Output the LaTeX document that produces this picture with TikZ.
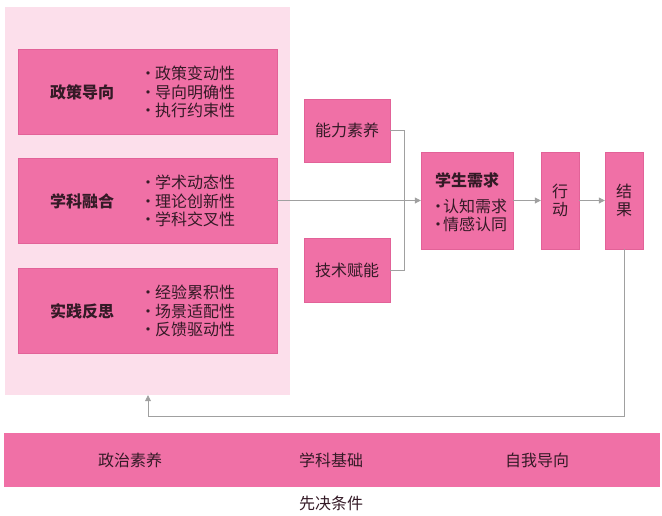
\documentclass[tikz,border=0pt]{standalone}
\usepackage{fontspec}
\setmainfont{Noto Sans CJK SC}
\usepackage{tikz}
\usetikzlibrary{arrows.meta}

\definecolor{rose}{RGB}{240,112,166}
\definecolor{roseedge}{RGB}{226,98,152}
\definecolor{blush}{RGB}{252,223,235}
\definecolor{ink}{RGB}{52,26,38}
\definecolor{wire}{RGB}{160,160,160}
\newcommand{\itm}[1][15pt]{\makebox[#1][l]{·}}

\begin{document}
\begin{tikzpicture}[x=1pt,y=-1pt,
        every node/.style={text=ink,font=\fontsize{16}{18.5}\selectfont,inner sep=0pt},
        blk/.style={fill=rose,draw=roseedge,line width=0.4pt},
        lst/.style={anchor=west,align=left},
        ->,>={Triangle[length=6pt,width=6pt]},wire/.style={draw=wire,line width=0.8pt}]
        \useasboundingbox (0,0) rectangle (662,515);
        \node (bg) [fill=blush,minimum width=285pt,minimum height=388pt] at (147.5,201) {};
        \node (pol) [blk,minimum width=259pt,minimum height=85pt] at (147.5,91.5) {};
        \node (sub) [blk,minimum width=259pt,minimum height=85pt] at (147.5,200.5) {};
        \node (pra) [blk,minimum width=259pt,minimum height=85pt] at (147.5,310.5) {};
        \node (polt) at (82,92) {\bfseries 政策导向};
        \node (subt) at (82,201) {\bfseries 学科融合};
        \node (prat) at (82,311) {\bfseries 实践反思};
        \node (poll) [lst] at (140,92) {\itm 政策变动性\\ \itm 导向明确性\\ \itm 执行约束性};
        \node (subl) [lst] at (140,201) {\itm 学术动态性\\ \itm 理论创新性\\ \itm 学科交叉性};
        \node (pral) [lst] at (140,311) {\itm 经验累积性\\ \itm 场景适配性\\ \itm 反馈驱动性};

        \node (abl) [blk,minimum width=86pt,minimum height=63pt] at (347,130.5) {能力素养};
        \node (tec) [blk,minimum width=86pt,minimum height=64pt] at (347,270) {技术赋能};
        \node (stu) [blk,minimum width=92pt,minimum height=97pt] at (467,200.5) {};
        \node (stut) at (467,180) {\bfseries 学生需求};
        \node (stul) [lst] at (430,215.5) {\itm[13pt]认知需求\\ \itm[13pt]情感认同};
        \node (act) [blk,minimum width=38pt,minimum height=97pt,align=center] at (560,200.5) {行\\动};
        \node (res) [blk,minimum width=38pt,minimum height=97pt,align=center] at (624,200.5) {结\\果};

        \node (pre) [fill=rose,minimum width=656pt,minimum height=54pt] at (332,460) {};
        \node (prea) at (130,460) {政治素养};
        \node (preb) at (331,460) {学科基础};
        \node (prec) at (537,460) {自我导向};
        \node (pret) at (331,503) {先决条件};

        \coordinate (jn) at (404,200.5);
        \coordinate (fb) at (148,416);
        \draw[wire,-] (abl.east) -| (jn);
        \draw[wire,-] (tec.east) -| (jn);
        \draw[wire] (sub.east) -- (stu.west);
        \draw[wire] (stu.east) -- (act.west);
        \draw[wire] (act.east) -- (res.west);
        \draw[wire] (res.south) |- (fb) -- (fb |- bg.south);
\end{tikzpicture}
\end{document}
